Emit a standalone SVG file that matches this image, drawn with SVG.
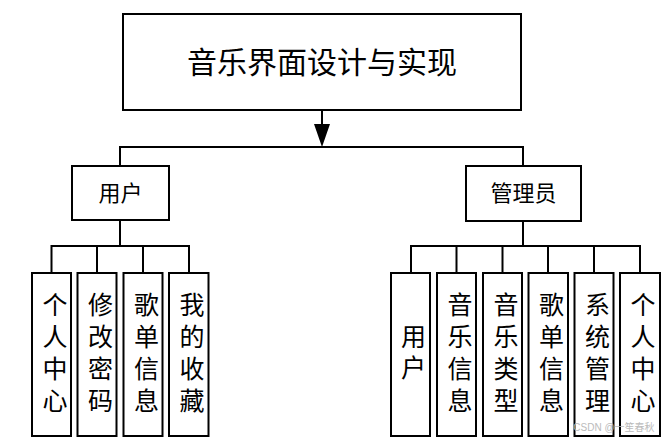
<svg xmlns="http://www.w3.org/2000/svg" width="671" height="443" viewBox="0 0 671 443">
<style>
.box{fill:#fff;stroke:#000;stroke-width:2}
.ln{fill:none;stroke:#000;stroke-width:2}
text{font-family:"Liberation Sans","Noto Sans CJK SC",sans-serif;fill:#000;text-anchor:middle}
.t{font-size:30px}
.m{font-size:22px}
.c{font-size:25px}
.wm{font-size:10px;fill:#bbb}
</style>
<rect width="671" height="443" fill="#fff"/>
<g id="connectors">
<line class="ln" x1="322" y1="110" x2="322" y2="125"/>
<polygon points="314,124 330,124 322,147" fill="#000"/>
<polyline class="ln" points="120,166 120,147 523,147 523,166"/>
<line class="ln" x1="120" y1="220" x2="120" y2="246"/>
<polyline class="ln" points="51.5,273 51.5,246 189,246 189,273"/>
<line class="ln" x1="97" y1="246" x2="97" y2="273"/>
<line class="ln" x1="143" y1="246" x2="143" y2="273"/>
<line class="ln" x1="523" y1="221" x2="523" y2="246"/>
<polyline class="ln" points="411,273 411,246 640,246 640,273"/>
<line class="ln" x1="456.5" y1="246" x2="456.5" y2="273"/>
<line class="ln" x1="502.5" y1="246" x2="502.5" y2="273"/>
<line class="ln" x1="548" y1="246" x2="548" y2="273"/>
<line class="ln" x1="594" y1="246" x2="594" y2="273"/>
</g>
<g id="root"><rect class="box" x="123" y="14" width="398" height="96"/><text class="t" x="322" y="73">音乐界面设计与实现</text></g>
<g id="user"><rect class="box" x="72" y="166" width="97" height="54"/><text class="m" x="120.5" y="201">用户</text></g>
<g id="admin"><rect class="box" x="466" y="166" width="115" height="55"/><text class="m" x="523.5" y="201">管理员</text></g>
<g id="u1"><rect class="box" x="32" y="273" width="39" height="163"/><text class="c"><tspan x="55" y="314">个</tspan><tspan x="55" y="346">人</tspan><tspan x="55" y="378">中</tspan><tspan x="55" y="410">心</tspan></text></g>
<g id="u2"><rect class="box" x="77.5" y="273" width="39" height="163"/><text class="c"><tspan x="100.5" y="314">修</tspan><tspan x="100.5" y="346">改</tspan><tspan x="100.5" y="378">密</tspan><tspan x="100.5" y="410">码</tspan></text></g>
<g id="u3"><rect class="box" x="123.5" y="273" width="39" height="163"/><text class="c"><tspan x="146.5" y="314">歌</tspan><tspan x="146.5" y="346">单</tspan><tspan x="146.5" y="378">信</tspan><tspan x="146.5" y="410">息</tspan></text></g>
<g id="u4"><rect class="box" x="169" y="273" width="39.5" height="163"/><text class="c"><tspan x="192" y="314">我</tspan><tspan x="192" y="346">的</tspan><tspan x="192" y="378">收</tspan><tspan x="192" y="410">藏</tspan></text></g>
<g id="a1"><rect class="box" x="391" y="273" width="39" height="163"/><text class="c"><tspan x="413.5" y="346">用</tspan><tspan x="413.5" y="377">户</tspan></text></g>
<g id="a2"><rect class="box" x="437" y="273" width="39" height="163"/><text class="c"><tspan x="460" y="314">音</tspan><tspan x="460" y="346">乐</tspan><tspan x="460" y="378">信</tspan><tspan x="460" y="410">息</tspan></text></g>
<g id="a3"><rect class="box" x="483" y="273" width="39" height="163"/><text class="c"><tspan x="506" y="314">音</tspan><tspan x="506" y="346">乐</tspan><tspan x="506" y="378">类</tspan><tspan x="506" y="410">型</tspan></text></g>
<g id="a4"><rect class="box" x="528.5" y="273" width="39.5" height="163"/><text class="c"><tspan x="551.5" y="314">歌</tspan><tspan x="551.5" y="346">单</tspan><tspan x="551.5" y="378">信</tspan><tspan x="551.5" y="410">息</tspan></text></g>
<g id="a5"><rect class="box" x="574.5" y="273" width="39" height="163"/><text class="c"><tspan x="597.5" y="314">系</tspan><tspan x="597.5" y="346">统</tspan><tspan x="597.5" y="378">管</tspan><tspan x="597.5" y="410">理</tspan></text></g>
<g id="a6"><rect class="box" x="620" y="273" width="40" height="163"/><text class="c"><tspan x="643" y="314">个</tspan><tspan x="643" y="346">人</tspan><tspan x="643" y="378">中</tspan><tspan x="643" y="410">心</tspan></text></g>
<text class="wm" x="614" y="431">CSDN @一笙春秋</text>
</svg>
